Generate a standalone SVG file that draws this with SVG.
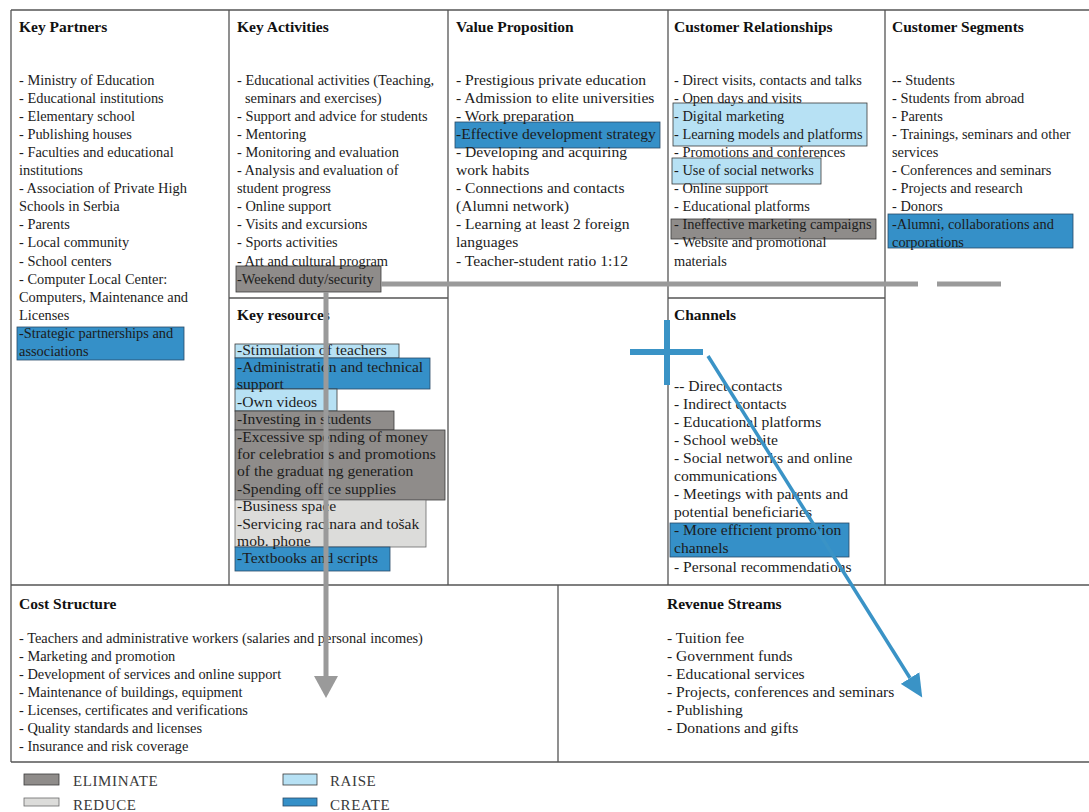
<svg xmlns="http://www.w3.org/2000/svg" width="1089" height="812" viewBox="0 0 1089 812">
<defs>
<style>
.t{font-family:"Liberation Serif","Times New Roman",serif;font-size:14.4px;fill:#1c1c1c}
.t2{font-family:"Liberation Serif","Times New Roman",serif;font-size:15.6px;fill:#1c1c1c}
.h{font-family:"Liberation Serif","Times New Roman",serif;font-size:15.5px;font-weight:bold;fill:#111}
.lg{font-family:"Liberation Serif","Times New Roman",serif;font-size:15px;fill:#3a3a3a;letter-spacing:0.6px}
.frame{fill:none;stroke:#555;stroke-width:1.3}
.elim{fill:#8f8c8a;stroke:#3a3a3a;stroke-width:0.8}
.reduce{fill:#dcdcda;stroke:#6a6a6a;stroke-width:0.8}
.raise{fill:#b7e1f4;stroke:#3a3a3a;stroke-width:0.8}
.create{fill:#3590c8;stroke:#2a4a66;stroke-width:0.8}
.garrow{fill:none;stroke:#9a9a9a;stroke-width:5}
.barrow{fill:none;stroke:#3a93c6;stroke-width:3.5}
.bcross{fill:none;stroke:#3a93c6;stroke-width:6}
</style>
<marker id="mg" markerUnits="userSpaceOnUse" markerWidth="24" markerHeight="24" refX="0" refY="12" orient="auto"><path d="M0,0 L22,12 L0,24 z" fill="#9a9a9a"/></marker>
<marker id="mb" markerUnits="userSpaceOnUse" markerWidth="24" markerHeight="22" refX="0" refY="11" orient="auto"><path d="M0,0 L23,11 L0,22 z" fill="#3a93c6"/></marker>
</defs>
<rect x="0" y="0" width="1089" height="812" fill="#fff"/>

<g id="frame">
<path class="frame" d="M11,10 H1089 M11,10 V762 M229,10 V585 M448,10 V585 M668,10 V585 M885,10 V585 M11,585 H1089 M11,762 H1089 M558,585 V762 M229,298 H448 M668,298 H885"/>
</g>

<g id="key-partners">
<text class="h" x="19" y="32">Key Partners</text>
<rect class="create" x="17" y="327" width="167" height="33"/>
<text class="t"><tspan x="19" y="84.5">- Ministry of Education</tspan><tspan x="19" dy="18.1">- Educational institutions</tspan><tspan x="19" dy="18.1">- Elementary school</tspan><tspan x="19" dy="18.1">- Publishing houses</tspan><tspan x="19" dy="18.1">- Faculties and educational</tspan><tspan x="19" dy="18.1">institutions</tspan><tspan x="19" dy="18.1">- Association of Private High</tspan><tspan x="19" dy="18.1">Schools in Serbia</tspan><tspan x="19" dy="18.1">- Parents</tspan><tspan x="19" dy="18.1">- Local community</tspan><tspan x="19" dy="18.1">- School centers</tspan><tspan x="19" dy="18.1">- Computer Local Center:</tspan><tspan x="19" dy="18.1">Computers, Maintenance and</tspan><tspan x="19" dy="18.1">Licenses</tspan><tspan x="19" dy="18.1">-Strategic partnerships and</tspan><tspan x="19" dy="18.1">associations</tspan></text>
</g>

<g id="key-activities">
<text class="h" x="237" y="32">Key Activities</text>
<rect class="elim" x="236" y="266" width="145" height="26"/>
<text class="t"><tspan x="237" y="84.5">- Educational activities (Teaching,</tspan><tspan x="245" dy="18.1">seminars and exercises)</tspan><tspan x="237" dy="18.1">- Support and advice for students</tspan><tspan x="237" dy="18.1">- Mentoring</tspan><tspan x="237" dy="18.1">- Monitoring and evaluation</tspan><tspan x="237" dy="18.1">- Analysis and evaluation of</tspan><tspan x="237" dy="18.1">student progress</tspan><tspan x="237" dy="18.1">- Online support</tspan><tspan x="237" dy="18.1">- Visits and excursions</tspan><tspan x="237" dy="18.1">- Sports activities</tspan><tspan x="237" dy="18.1">- Art and cultural program</tspan><tspan x="237" dy="18.1">-Weekend duty/security</tspan></text>
</g>

<g id="value-proposition">
<text class="h" x="456" y="32">Value Proposition</text>
<rect class="create" x="455" y="122" width="205" height="26"/>
<text class="t2"><tspan x="456" y="84.5">- Prestigious private education</tspan><tspan x="456" dy="18.1">- Admission to elite universities</tspan><tspan x="456" dy="18.1">- Work preparation</tspan><tspan x="456" dy="18.1">-Effective development strategy</tspan><tspan x="456" dy="18.1">- Developing and acquiring</tspan><tspan x="456" dy="18.1">work habits</tspan><tspan x="456" dy="18.1">- Connections and contacts</tspan><tspan x="456" dy="18.1">(Alumni network)</tspan><tspan x="456" dy="18.1">- Learning at least 2 foreign</tspan><tspan x="456" dy="18.1">languages</tspan><tspan x="456" dy="18.1">- Teacher-student ratio 1:12</tspan></text>
</g>

<g id="customer-relationships">
<text class="h" x="674" y="32">Customer Relationships</text>
<rect class="raise" x="673" y="103" width="194" height="43"/>
<rect class="raise" x="672" y="158" width="149" height="26"/>
<rect class="elim" x="671" y="219" width="205" height="20"/>
<text class="t"><tspan x="674" y="84.5">- Direct visits, contacts and talks</tspan><tspan x="674" dy="18.1">- Open days and visits</tspan><tspan x="674" dy="18.1">- Digital marketing</tspan><tspan x="674" dy="18.1">- Learning models and platforms</tspan><tspan x="674" dy="18.1">- Promotions and conferences</tspan><tspan x="674" dy="18.1">- Use of social networks</tspan><tspan x="674" dy="18.1">- Online support</tspan><tspan x="674" dy="18.1">- Educational platforms</tspan><tspan x="674" dy="18.1">- Ineffective marketing campaigns</tspan><tspan x="674" dy="18.1">- Website and promotional</tspan><tspan x="674" dy="18.1">materials</tspan></text>
</g>

<g id="customer-segments">
<text class="h" x="892" y="32">Customer Segments</text>
<rect class="create" x="888" y="214" width="185" height="34"/>
<text class="t"><tspan x="892" y="84.5">-- Students</tspan><tspan x="892" dy="18.1">- Students from abroad</tspan><tspan x="892" dy="18.1">- Parents</tspan><tspan x="892" dy="18.1">- Trainings, seminars and other</tspan><tspan x="892" dy="18.1">services</tspan><tspan x="892" dy="18.1">- Conferences and seminars</tspan><tspan x="892" dy="18.1">- Projects and research</tspan><tspan x="892" dy="18.1">- Donors</tspan><tspan x="892" dy="18.1">-Alumni, collaborations and</tspan><tspan x="892" dy="18.1">corporations</tspan></text>
</g>

<g id="key-resources">
<text class="h" x="237" y="320">Key resources</text>
<rect class="raise" x="235" y="344" width="164" height="14"/>
<rect class="create" x="235" y="358" width="195" height="31"/>
<rect class="raise" x="235" y="389" width="102" height="22"/>
<rect class="elim" x="235" y="411" width="159" height="19"/>
<rect class="elim" x="235" y="430" width="210" height="70"/>
<rect class="reduce" x="235" y="500" width="191" height="47"/>
<rect class="create" x="235" y="547" width="155" height="24"/>
<text class="t2"><tspan x="237" y="354.5">-Stimulation of teachers</tspan><tspan x="237" dy="17.4">-Administration and technical</tspan><tspan x="237" dy="17.4">support</tspan><tspan x="237" dy="17.4">-Own videos</tspan><tspan x="237" dy="17.4">-Investing in students</tspan><tspan x="237" dy="17.4">-Excessive spending of money</tspan><tspan x="237" dy="17.4">for celebrations and promotions</tspan><tspan x="237" dy="17.4">of the graduating generation</tspan><tspan x="237" dy="17.4">-Spending office supplies</tspan><tspan x="237" dy="17.4">-Business space</tspan><tspan x="237" dy="17.4">-Servicing racinara and tošak</tspan><tspan x="237" dy="17.4">mob. phone</tspan><tspan x="237" dy="17.4">-Textbooks and scripts</tspan></text>
</g>

<g id="channels">
<text class="h" x="674" y="320">Channels</text>
<rect class="create" x="670" y="523" width="179" height="34"/>
<text class="t2"><tspan x="674" y="390.5">-- Direct contacts</tspan><tspan x="674" dy="18.1">- Indirect contacts</tspan><tspan x="674" dy="18.1">- Educational platforms</tspan><tspan x="674" dy="18.1">- School website</tspan><tspan x="674" dy="18.1">- Social networks and online</tspan><tspan x="674" dy="18.1">communications</tspan><tspan x="674" dy="18.1">- Meetings with parents and</tspan><tspan x="674" dy="18.1">potential beneficiaries</tspan><tspan x="674" dy="18.1">- More efficient promotion</tspan><tspan x="674" dy="18.1">channels</tspan><tspan x="674" dy="18.1">- Personal recommendations</tspan></text>
</g>

<g id="cost-structure">
<text class="h" x="19" y="608.5">Cost Structure</text>
<text class="t"><tspan x="19" y="642.5">- Teachers and administrative workers (salaries and personal incomes)</tspan><tspan x="19" dy="18.1">- Marketing and promotion</tspan><tspan x="19" dy="18.1">- Development of services and online support</tspan><tspan x="19" dy="18.1">- Maintenance of buildings, equipment</tspan><tspan x="19" dy="18.1">- Licenses, certificates and verifications</tspan><tspan x="19" dy="18.1">- Quality standards and licenses</tspan><tspan x="19" dy="18.1">- Insurance and risk coverage</tspan></text>
</g>

<g id="revenue-streams">
<text class="h" x="667" y="608.5">Revenue Streams</text>
<text class="t2"><tspan x="667" y="642.5">- Tuition fee</tspan><tspan x="667" dy="18.1">- Government funds</tspan><tspan x="667" dy="18.1">- Educational services</tspan><tspan x="667" dy="18.1">- Projects, conferences and seminars</tspan><tspan x="667" dy="18.1">- Publishing</tspan><tspan x="667" dy="18.1">- Donations and gifts</tspan></text>
</g>

<g id="connectors">
<path class="garrow" d="M381,284 H918"/>
<path class="garrow" d="M937,284 H1001"/>
<path class="garrow" d="M326,292 V676" marker-end="url(#mg)"/>
<path class="bcross" d="M630,352 H703 M667,320 V385"/>
<path class="barrow" d="M708,356 L910,678" marker-end="url(#mb)"/>
</g>

<g id="legend">
<rect class="elim" x="24" y="774" width="35" height="11"/>
<text class="lg" x="73" y="786">ELIMINATE</text>
<rect class="reduce" x="24" y="798" width="35" height="8"/>
<text class="lg" x="73" y="810">REDUCE</text>
<rect class="raise" x="283" y="774" width="34" height="11"/>
<text class="lg" x="330" y="786">RAISE</text>
<rect class="create" x="283" y="798" width="34" height="8"/>
<text class="lg" x="330" y="810">CREATE</text>
</g>
</svg>
